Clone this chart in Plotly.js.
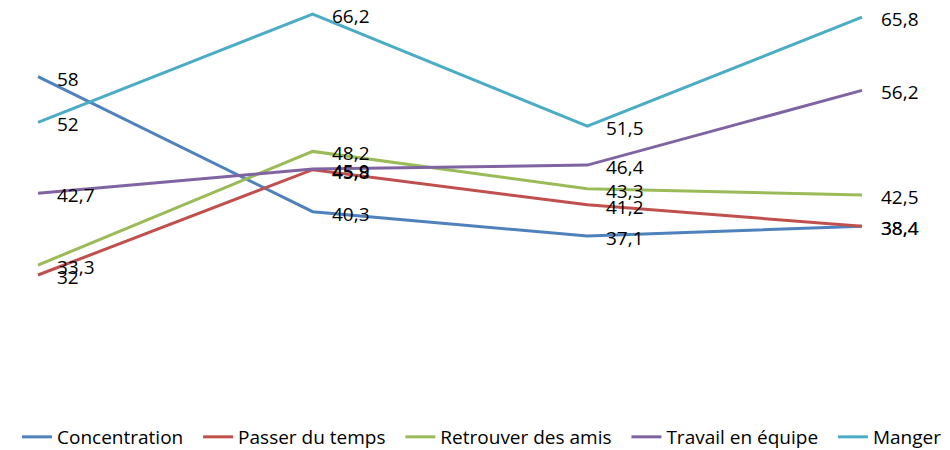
<!DOCTYPE html>
<html><head><meta charset="utf-8">
<script src="https://cdn.plot.ly/plotly-3.0.1.min.js"></script>
<style>html,body{margin:0;padding:0;background:#fff}</style>
</head><body><div id="chart" style="width:950px;height:450px"></div>
<script>
const categories = ["1", "2", "3", "4"];
const seriesNames = ["Concentration", "Passer du temps", "Retrouver des amis", "Travail en équipe", "Manger"];
const concentration = [58, 40.3, 37.1, 38.4];
const passerDuTemps = [32, 45.8, 41.2, 38.4];
const retrouverDesAmis = [33.3, 48.2, 43.3, 42.5];
const travailEnEquipe = [42.7, 45.9, 46.4, 56.2];
const manger = [52, 66.2, 51.5, 65.8];
const colors = ["#4F81BD", "#C0504D", "#9BBB59", "#8064A2", "#4BACC6"];
const allSeries = [concentration, passerDuTemps, retrouverDesAmis, travailEnEquipe, manger];
const fontFam = "'Open Sans', sans-serif";

const traces = allSeries.map((vals, i) => ({
  type: 'scatter', mode: 'lines', x: [0,1,2,3], y: vals,
  name: seriesNames[i] + (i < seriesNames.length - 1 ? '\u00a0\u00a0' : ''),
  line: {color: colors[i], width: 3}, cliponaxis: false, hoverinfo: 'skip'
}));
const annotations = [];
allSeries.forEach((vals) => {
  vals.forEach((v, j) => {
    annotations.push({x: j, y: v, xref: 'x', yref: 'y', text: String(v).replace('.', ','),
      showarrow: false, xanchor: 'left', yanchor: 'middle', xshift: 17, yshift: -2,
      font: {family: fontFam, size: 19, color: '#000'}});
  });
});
const layout = {
  width: 950, height: 450,
  margin: {l: 0, r: 0, t: 0, b: 70},
  paper_bgcolor: '#fff', plot_bgcolor: '#fff',
  xaxis: {range: [-0.1383, 3.3204], showgrid: false, zeroline: false, showline: false, showticklabels: false, ticks: ''},
  yaxis: {range: [18.24, 68.04], showgrid: false, zeroline: false, showline: false, showticklabels: false, ticks: ''},
  showlegend: true,
  legend: {orientation: 'h', x: 0.0179, xanchor: 'left', yref: 'container', y: 0.0289, yanchor: 'middle',
    font: {family: fontFam, size: 19, color: '#000'}, tracegroupgap: 0},
  annotations: annotations
};
Plotly.newPlot('chart', traces, layout, {displayModeBar: false, staticPlot: true});
</script></body></html>
